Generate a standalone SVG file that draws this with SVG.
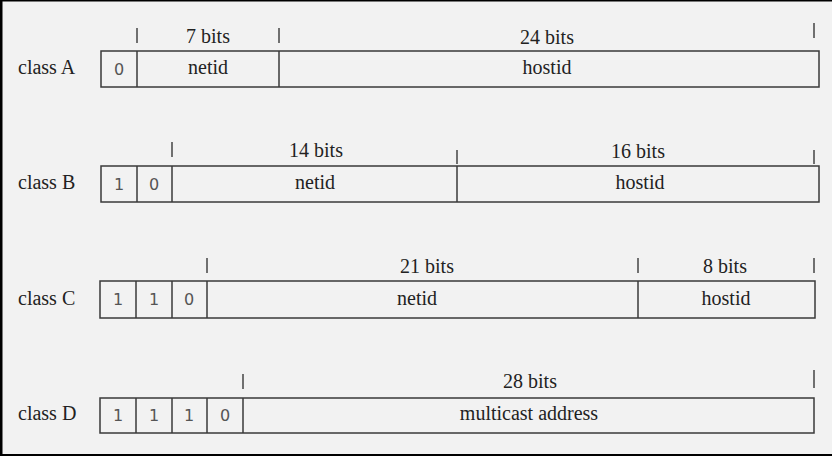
<svg xmlns="http://www.w3.org/2000/svg" width="832" height="456" viewBox="0 0 832 456">
<style>
.box{fill:none;stroke:#3a3a3a;stroke-width:1.5}
.ln{stroke:#3a3a3a;stroke-width:1.5}
.tk{stroke:#444;stroke-width:1.5}
.t{font-family:"Liberation Serif","Times New Roman",serif;font-size:20px;fill:#222}
.c{text-anchor:middle}
.d{font-family:"DejaVu Sans","Liberation Sans",sans-serif;font-size:16px;fill:#555;text-anchor:middle}
</style>
<rect x="0" y="0" width="832" height="456" fill="#f2f2f2"/>
<rect x="0" y="0" width="832" height="1.5" fill="#000"/>
<rect x="0" y="0" width="2.5" height="456" fill="#000"/>
<rect x="0" y="454" width="832" height="2" fill="#000"/>

<g id="ticks">
<line class="tk" x1="137" y1="28" x2="137" y2="43"/>
<line class="tk" x1="279" y1="28" x2="279" y2="43"/>
<line class="tk" x1="814" y1="23" x2="814" y2="38"/>
<line class="tk" x1="172" y1="142" x2="172" y2="157"/>
<line class="tk" x1="457" y1="150" x2="457" y2="164"/>
<line class="tk" x1="814" y1="150" x2="814" y2="164"/>
<line class="tk" x1="207" y1="258" x2="207" y2="273"/>
<line class="tk" x1="638" y1="258" x2="638" y2="273"/>
<line class="tk" x1="814" y1="258" x2="814" y2="273"/>
<line class="tk" x1="243" y1="374" x2="243" y2="389"/>
<line class="tk" x1="814" y1="370" x2="814" y2="388"/>
</g>

<g id="classA">
<text class="t" x="18" y="74">class A</text>
<rect class="box" x="101" y="51" width="718" height="36"/>
<line class="ln" x1="137" y1="51" x2="137" y2="87"/>
<line class="ln" x1="279" y1="51" x2="279" y2="87"/>
<text class="d" x="119" y="75">0</text>
<text class="t c" x="208" y="74">netid</text>
<text class="t c" x="547" y="74">hostid</text>
<text class="t c" x="208" y="43">7 bits</text>
<text class="t c" x="547" y="44">24 bits</text>
</g>

<g id="classB">
<text class="t" x="18" y="189">class B</text>
<rect class="box" x="101" y="166" width="718" height="36"/>
<line class="ln" x1="137" y1="166" x2="137" y2="202"/>
<line class="ln" x1="172" y1="166" x2="172" y2="202"/>
<line class="ln" x1="457" y1="166" x2="457" y2="202"/>
<text class="d" x="119" y="190">1</text>
<text class="d" x="154" y="190">0</text>
<text class="t c" x="315" y="189">netid</text>
<text class="t c" x="640" y="189">hostid</text>
<text class="t c" x="316" y="157">14 bits</text>
<text class="t c" x="638" y="158">16 bits</text>
</g>

<g id="classC">
<text class="t" x="18" y="305">class C</text>
<rect class="box" x="100" y="281" width="715" height="37"/>
<line class="ln" x1="136" y1="281" x2="136" y2="318"/>
<line class="ln" x1="172" y1="281" x2="172" y2="318"/>
<line class="ln" x1="207" y1="281" x2="207" y2="318"/>
<line class="ln" x1="638" y1="281" x2="638" y2="318"/>
<text class="d" x="118" y="305">1</text>
<text class="d" x="154" y="305">1</text>
<text class="d" x="189" y="305">0</text>
<text class="t c" x="417" y="305">netid</text>
<text class="t c" x="726" y="305">hostid</text>
<text class="t c" x="427" y="273">21 bits</text>
<text class="t c" x="725" y="273">8 bits</text>
</g>

<g id="classD">
<text class="t" x="18" y="420">class D</text>
<rect class="box" x="100" y="398" width="714" height="35"/>
<line class="ln" x1="136" y1="398" x2="136" y2="433"/>
<line class="ln" x1="172" y1="398" x2="172" y2="433"/>
<line class="ln" x1="207" y1="398" x2="207" y2="433"/>
<line class="ln" x1="243" y1="398" x2="243" y2="433"/>
<text class="d" x="118" y="421">1</text>
<text class="d" x="154" y="421">1</text>
<text class="d" x="189" y="421">1</text>
<text class="d" x="225" y="421">0</text>
<text class="t c" x="529" y="420">multicast address</text>
<text class="t c" x="530" y="388">28 bits</text>
</g>
</svg>
